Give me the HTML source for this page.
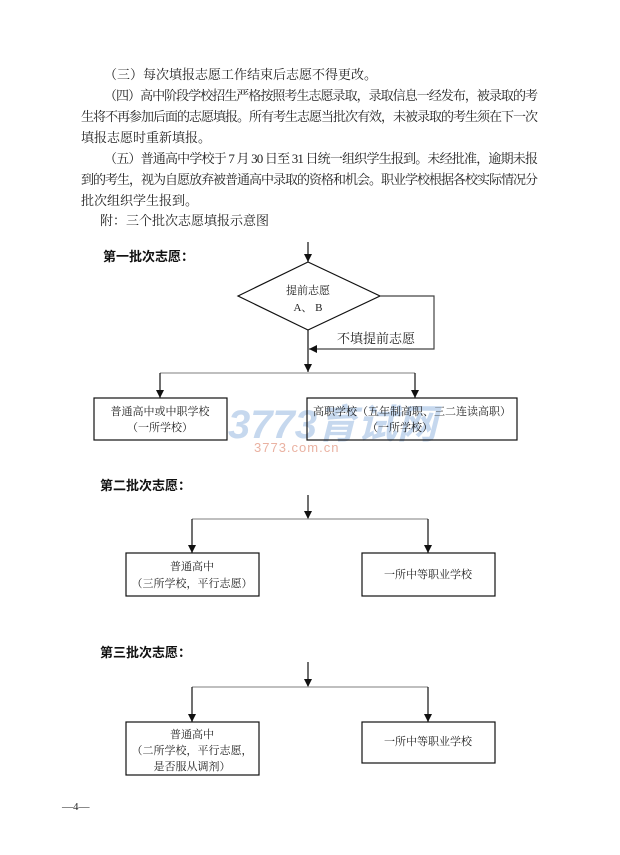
<!DOCTYPE html>
<html><head><meta charset="utf-8"><style>
html,body{margin:0;padding:0;background:#fff;}
svg{display:block;}
text{font-family:"Liberation Serif","Noto Serif CJK SC","Noto Sans CJK SC",serif;fill:#222;}
.b{font-family:"Liberation Sans","Noto Sans CJK SC",sans-serif;font-weight:bold;fill:#111;}
</style></head><body>
<svg width="620" height="855" viewBox="0 0 620 855" xmlns="http://www.w3.org/2000/svg">
<defs><marker id="a" markerWidth="8" markerHeight="8" refX="8" refY="4" orient="auto" markerUnits="userSpaceOnUse"><path d="M0,0 L8,4 L0,8 z" fill="#111"/></marker></defs>
<g font-size="13">
<text x="104" y="79">（三）每次填报志愿工作结束后志愿不得更改。</text>
<text x="104" y="100" textLength="434" lengthAdjust="spacing">（四）高中阶段学校招生严格按照考生志愿录取，录取信息一经发布，被录取的考</text>
<text x="81" y="121" textLength="457" lengthAdjust="spacing">生将不再参加后面的志愿填报。所有考生志愿当批次有效，未被录取的考生须在下一次</text>
<text x="81" y="142">填报志愿时重新填报。</text>
<text x="104" y="163" textLength="434" lengthAdjust="spacing">（五）普通高中学校于 7 月 30 日至 31 日统一组织学生报到。未经批准，逾期未报</text>
<text x="81" y="184" textLength="457" lengthAdjust="spacing">到的考生，视为自愿放弃被普通高中录取的资格和机会。职业学校根据各校实际情况分</text>
<text x="81" y="205">批次组织学生报到。</text>
<text x="100" y="225">附：三个批次志愿填报示意图</text>
</g>
<!-- watermark -->
<text x="228" y="438" font-size="40" font-style="italic" font-weight="bold" style="fill:#a9c4e6;font-family:'Liberation Sans','Noto Sans CJK SC',sans-serif" opacity="0.65">3773育试网</text>
<text x="254" y="452" font-size="13" style="fill:#eab2a2;font-family:'Liberation Sans',sans-serif" letter-spacing="1">3773.com.cn</text>

<g stroke="#111" fill="none" stroke-width="1.2">
<!-- section 1 -->
<line x1="308" y1="242" x2="308" y2="262" marker-end="url(#a)"/>
<polygon points="238,296 308,262 380,296 308,330" fill="none"/>
<polyline points="380,296 434,296 434,349 309,349" stroke="#444" marker-end="url(#a)"/>
<line x1="308" y1="330" x2="308" y2="372" marker-end="url(#a)"/>
<line x1="160" y1="373" x2="415" y2="373" stroke="#999"/>
<line x1="160" y1="373" x2="160" y2="398" marker-end="url(#a)"/>
<line x1="415" y1="373" x2="415" y2="398" marker-end="url(#a)"/>
<rect x="94" y="398" width="133" height="42"/>
<rect x="307" y="398" width="210" height="42"/>
<!-- section 2 -->
<line x1="308" y1="495" x2="308" y2="519" marker-end="url(#a)"/>
<line x1="192" y1="519" x2="428" y2="519" stroke="#999"/>
<line x1="192" y1="519" x2="192" y2="553" marker-end="url(#a)"/>
<line x1="428" y1="519" x2="428" y2="553" marker-end="url(#a)"/>
<rect x="126" y="553" width="133" height="43"/>
<rect x="362" y="553" width="133" height="43"/>
<!-- section 3 -->
<line x1="308" y1="662" x2="308" y2="687" marker-end="url(#a)"/>
<line x1="192" y1="687" x2="428" y2="687" stroke="#999"/>
<line x1="192" y1="687" x2="192" y2="722" marker-end="url(#a)"/>
<line x1="428" y1="687" x2="428" y2="722" marker-end="url(#a)"/>
<rect x="126" y="722" width="133" height="53"/>
<rect x="362" y="722" width="133" height="41"/>
</g>

<text class="b" x="103" y="261" font-size="13">第一批次志愿：</text>
<text x="308" y="294" font-size="11" text-anchor="middle">提前志愿</text>
<text x="308" y="311" font-size="11" text-anchor="middle">A、 B</text>
<text x="337" y="343" font-size="13">不填提前志愿</text>
<text x="160" y="415" font-size="11" text-anchor="middle">普通高中或中职学校</text>
<text x="160" y="431" font-size="11" text-anchor="middle">（一所学校）</text>
<text x="412" y="415" font-size="11" text-anchor="middle">高职学校（五年制高职、三二连读高职）</text>
<text x="400" y="431" font-size="11" text-anchor="middle">（一所学校）</text>

<text class="b" x="100" y="490" font-size="13">第二批次志愿：</text>
<text x="192" y="570" font-size="11" text-anchor="middle">普通高中</text>
<text x="192" y="587" font-size="11" text-anchor="middle">（三所学校，平行志愿）</text>
<text x="428" y="578" font-size="11" text-anchor="middle">一所中等职业学校</text>

<text class="b" x="100" y="657" font-size="13">第三批次志愿：</text>
<text x="192" y="738" font-size="11" text-anchor="middle">普通高中</text>
<text x="192" y="754" font-size="11" text-anchor="middle">（二所学校，平行志愿，</text>
<text x="192" y="770" font-size="11" text-anchor="middle">是否服从调剂）</text>
<text x="428" y="745" font-size="11" text-anchor="middle">一所中等职业学校</text>

<text x="62" y="810" font-size="11">—4—</text>
</svg>
</body></html>
